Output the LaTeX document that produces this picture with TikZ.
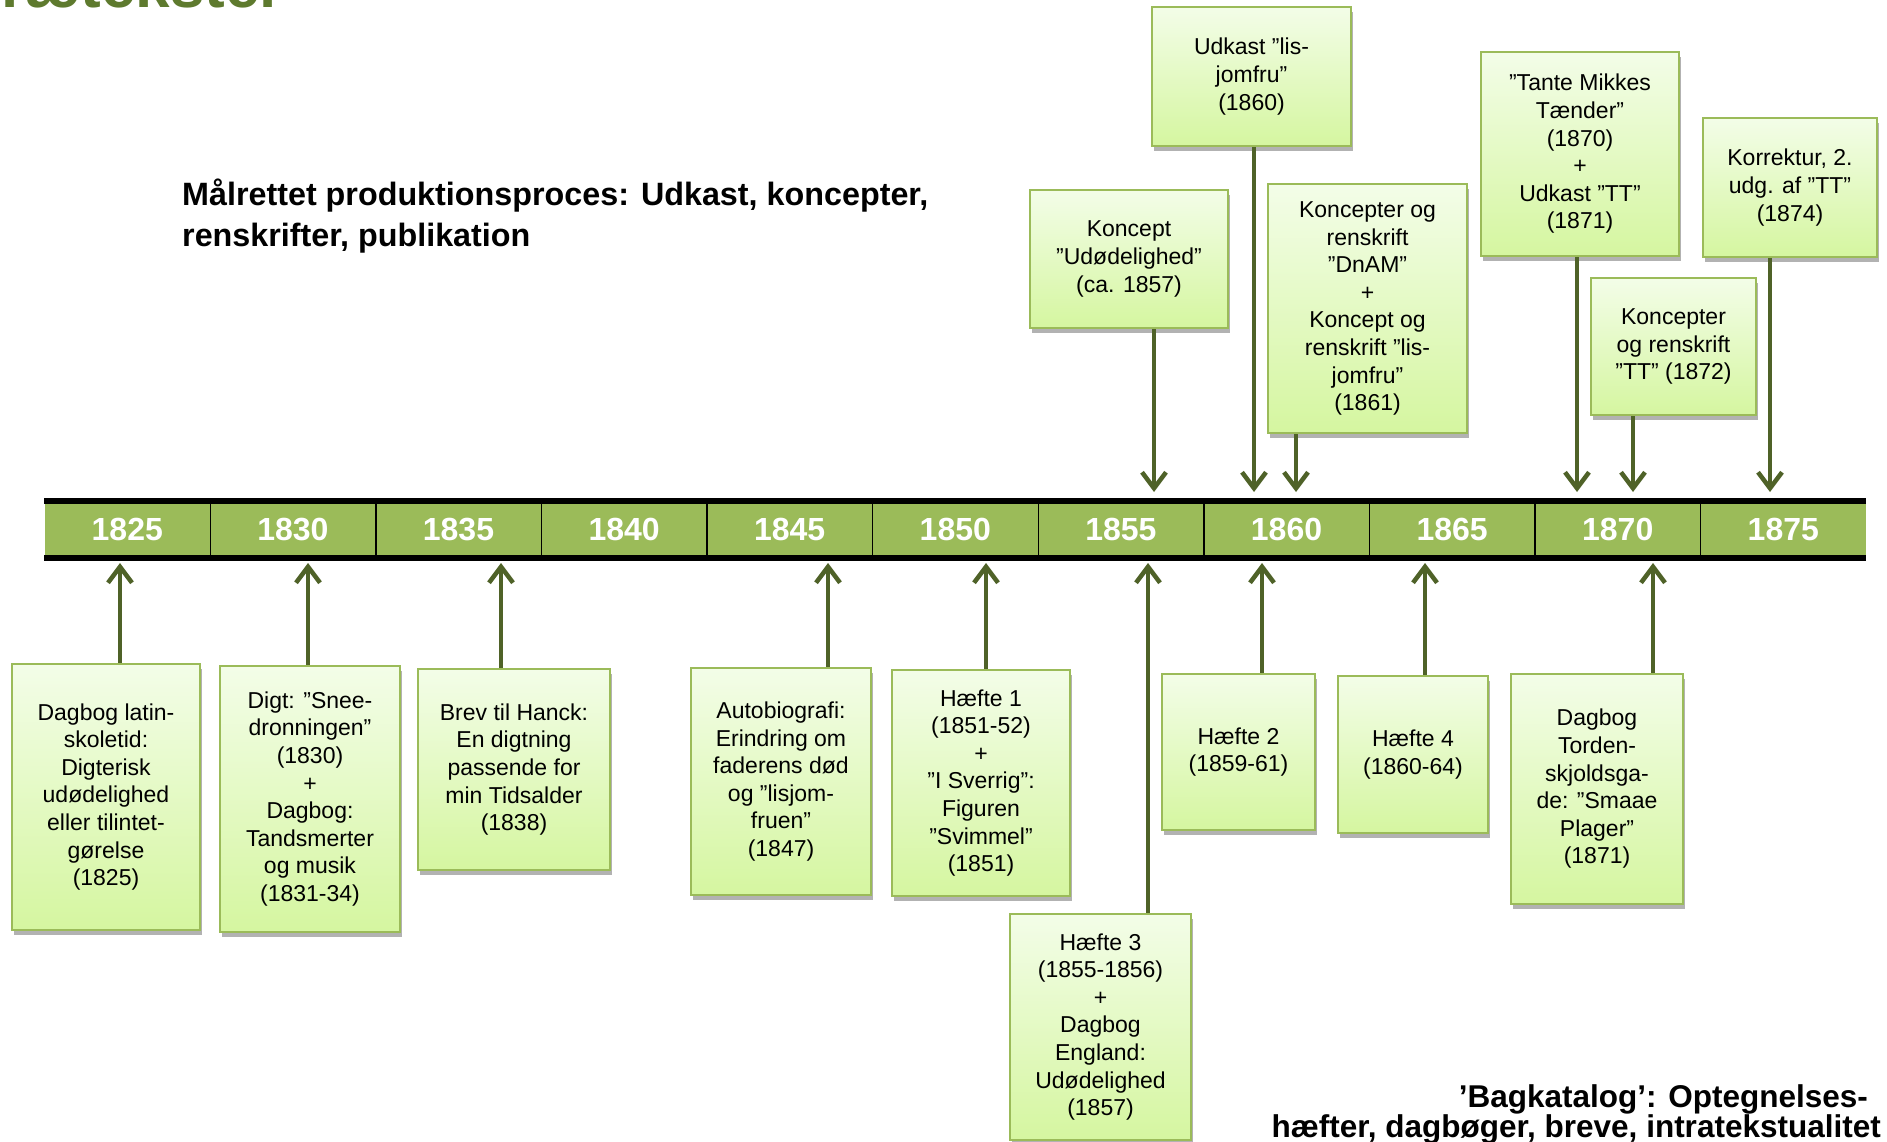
\documentclass[tikz,border=0pt]{standalone}
\usepackage{fontspec}
\setmainfont{Liberation Sans}
\usetikzlibrary{arrows.meta,shadows}
\definecolor{bargreen}{RGB}{155,187,89}
\definecolor{boxtop}{RGB}{243,253,232}
\definecolor{boxbottom}{RGB}{213,246,160}
\definecolor{arrowgreen}{RGB}{79,98,40}
\definecolor{titlegreen}{RGB}{94,122,46}
\begin{document}
\begin{tikzpicture}[x=1pt, y=-1pt,
	entry/.style={draw=bargreen, line width=2.5pt, top color=boxtop, bottom color=boxbottom,
		drop shadow={shadow xshift=1.5pt, shadow yshift=-5pt, opacity=0.3, fill=black},
		inner sep=0pt, align=center, font=\fontsize{23}{27.6}\selectfont},
	yearcell/.style={fill=bargreen, minimum width=165.6pt, minimum height=51pt, inner sep=0pt,
		text=white, font=\bfseries\fontsize{32}{38}\selectfont},
	headline/.style={inner sep=0pt, font=\bfseries\fontsize{32.3}{39}\selectfont},
	conn/.style={draw=arrowgreen, line width=4.5pt},
	tip/.style={-{Straight Barb[length=16pt,width=24pt]}}
	]
	\fill[white] (0,0) rectangle (1887,1142);
	\useasboundingbox (0,0) rectangle (1887,1142);
	
	% Title, cut by the page edge
	\node[anchor=base west, inner sep=0pt, text=titlegreen, font=\bfseries\fontsize{62}{70}\selectfont] (title) at (-40,8) {Prætekster};
	
	% Time line
	\foreach \i/\yr in {0/1825, 1/1830, 2/1835, 3/1840, 4/1845, 5/1850, 6/1855, 7/1860, 8/1865, 9/1870, 10/1875} {
		\node[yearcell] (year\yr) at ({44.5+165.6*(\i+0.5)},529.5) {\yr};
	}
	\foreach \yr in {1825,1830,...,1870} {
		\draw[line width=1.5pt] (year\yr.north east) -- (year\yr.south east);
	}
	\draw[line width=6pt] ([yshift=3pt]year1825.north west) -- ([yshift=3pt]year1875.north east);
	\draw[line width=6pt] ([yshift=-3pt]year1825.south west) -- ([yshift=-3pt]year1875.south east);
	
	% Notes above the line
	\foreach \name/\cx/\cy/\w/\h/\txt in {
		above1/1129/259/198/138/{Koncept\\”Udødelighed”\\(ca. 1857)},
		above2/1251.5/76.5/199/139/{Udkast ”lis-\\jomfru”\\(1860)},
		above3/1367.5/308.5/199/249/{Koncepter og\\renskrift\\”DnAM”\\+\\Koncept og\\renskrift ”lis-\\jomfru”\\(1861)},
		above4/1580/154/198/204/{”Tante Mikkes\\Tænder”\\(1870)\\+\\Udkast ”TT”\\(1871)},
		above5/1790/187.5/174/139/{Korrektur, 2.\\udg. af ”TT”\\(1874)},
		above6/1673.5/346.5/165/137/{Koncepter\\og renskrift\\”TT” (1872)}} {
		\node[entry, minimum width=\w pt, minimum height=\h pt] (\name) at (\cx,\cy) {\txt};
	}
	
	% Notes below the line
	\foreach \name/\cx/\cy/\w/\h/\txt in {
		below1/106/797/188/266/{Dagbog latin-\\skoletid:\\Digterisk\\udødelighed\\eller tilintet-\\gørelse\\(1825)},
		below2/310/799/180/266/{Digt: ”Snee-\\dronningen”\\(1830)\\+\\Dagbog:\\Tandsmerter\\og musik\\(1831-34)},
		below3/514/769.5/192/201/{Brev til Hanck:\\En digtning\\passende for\\min Tidsalder\\(1838)},
		below4/781/781.5/180/227/{Autobiografi:\\Erindring om\\faderens død\\og ”lisjom-\\fruen”\\(1847)},
		below5/981/783/178/226/{Hæfte 1\\(1851-52)\\+\\”I Sverrig”:\\Figuren\\”Svimmel”\\(1851)},
		below6/1100.5/1027/181/226/{Hæfte 3\\(1855-1856)\\+\\Dagbog\\England:\\Udødelighed\\(1857)},
		below7/1238.5/752/153/156/{Hæfte 2\\(1859-61)},
		below8/1413/754.5/150/157/{Hæfte 4\\(1860-64)},
		below9/1597/789/172/230/{Dagbog\\Torden-\\skjoldsga-\\de: ”Smaae\\Plager”\\(1871)}} {
		\node[entry, minimum width=\w pt, minimum height=\h pt] (\name) at (\cx,\cy) {\txt};
	}
	
	% Connections
	\foreach \name/\cx in {above1/1154, above2/1254, above3/1296, above4/1577, above5/1770, above6/1633} {
		\coordinate (tip-\name) at (\cx,492);
		\draw[conn, tip] (\name.south -| tip-\name) -- (tip-\name);
	}
	\foreach \name/\cx in {below1/120, below2/308, below3/501, below4/828, below5/986, below6/1148, below7/1262, below8/1425, below9/1653} {
		\coordinate (tip-\name) at (\cx,563);
		\draw[conn, tip] (\name.north -| tip-\name) -- (tip-\name);
	}
	
	% Headings
	\node[headline, anchor=base west] (goal1) at (182,206) {Målrettet produktionsproces: Udkast, koncepter,};
	\node[headline, anchor=base west] (goal2) at (182,246) {renskrifter, publikation};
	\node[headline, anchor=base east, font=\bfseries\fontsize{31.5}{38}\selectfont] (back1) at (1868,1107) {’Bagkatalog’: Optegnelses-};
	\node[headline, anchor=base east, font=\bfseries\fontsize{31.5}{38}\selectfont] (back2) at (1881,1137) {hæfter, dagbøger, breve, intratekstualitet};
\end{tikzpicture}
\end{document}
